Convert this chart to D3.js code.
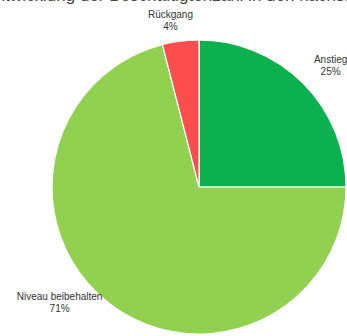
<!DOCTYPE html>
<html>
<head>
<meta charset="utf-8">
<script src="https://cdn.jsdelivr.net/npm/d3@7"></script>
<style>
  body { margin: 0; background: #fff; }
  svg { display: block; font-family: "Liberation Sans", Arial, sans-serif; }
</style>
</head>
<body>
<svg id="chart" width="347" height="336"></svg>
<script>
var categories = ["Anstieg", "Niveau beibehalten", "Rückgang"]
var shares = [25, 71, 4]
var colors = ["#0bb04f", "#92d050", "#ff4d4d"]

var svg = d3.select("#chart")
var cx = 199, cy = 187, r = 147

// title is cut off at the top of the picture
svg.append("text")
    .attr("x", 173).attr("y", 1)
    .attr("text-anchor", "middle")
    .attr("font-size", 17)
    .attr("fill", "#444")
    .text("Erwartete Entwicklung der Beschäftigtenzahl in den nächsten Monaten")

var pie = d3.pie().sort(null).value(function(d) { return d.v })
var data = pie(categories.map(function(c, i) { return {name: c, v: shares[i], color: colors[i]} }))

var arc = d3.arc().innerRadius(0).outerRadius(r)
var labelArc = d3.arc().innerRadius(172).outerRadius(172)

var g = svg.append("g").attr("transform", "translate(" + cx + "," + cy + ")")

g.selectAll("path")
    .data(data)
    .enter().append("path")
    .attr("d", arc)
    .attr("fill", function(d) { return d.data.color })
    .attr("stroke", "#fff")
    .attr("stroke-width", 1.2)

// nudges to match where the labels were placed
var nudge = [[10, 0], [-34, -21], [-7, 4]]

var lab = g.selectAll(".lbl")
    .data(data)
    .enter().append("text")
    .attr("class", "lbl")
    .attr("text-anchor", "middle")
    .attr("font-size", 10)
    .attr("fill", "#333")
    .attr("transform", function(d, i) {
        var c = labelArc.centroid(d)
        return "translate(" + (c[0] + nudge[i][0]) + "," + (c[1] + nudge[i][1]) + ")"
    })

lab.append("tspan").attr("x", 0).attr("y", -2).text(function(d) { return d.data.name })
lab.append("tspan").attr("x", 0).attr("y", 10).text(function(d) { return d.data.v + "%" })
</script>
</body>
</html>
